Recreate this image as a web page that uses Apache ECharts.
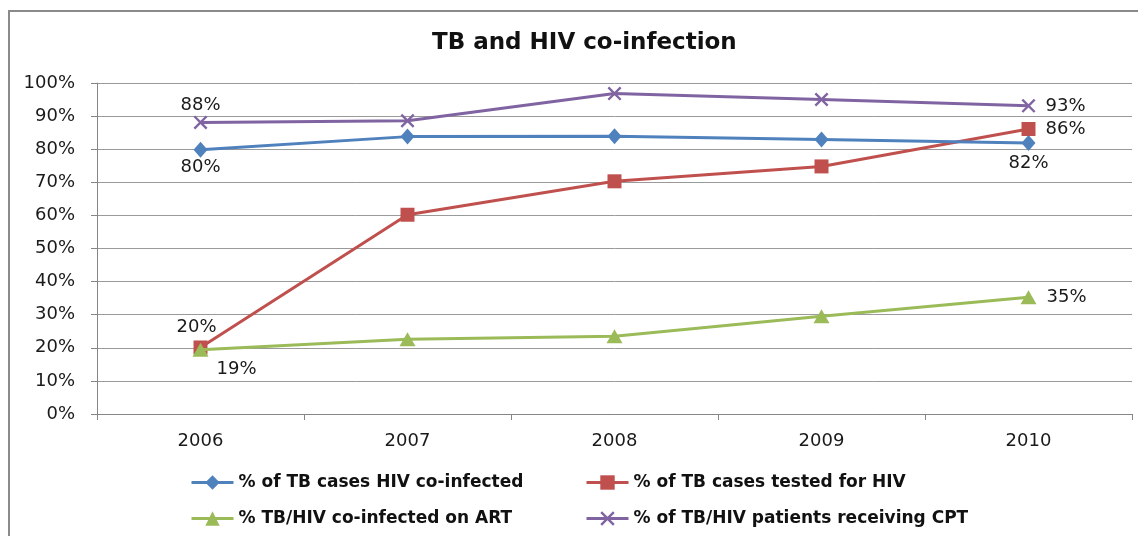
<!DOCTYPE html>
<html>
<head>
<meta charset="utf-8">
<script src="https://cdn.jsdelivr.net/npm/echarts@6/dist/echarts.min.js"></script>
<style>
  html, body { margin: 0; padding: 0; background: #fff; }
  #chart { width: 1138px; height: 536px; }
</style>
</head>
<body>
<div id="chart"></div>
<script>
// data
var years = ['2006', '2007', '2008', '2009', '2010']
var coInfected = [79.8, 83.8, 83.9, 82.9, 81.9]
var testedHiv = [20.1, 60.2, 70.3, 74.8, 86.1]
var onArt = [19.4, 22.6, 23.5, 29.5, 35.3]
var receivingCpt = [88.1, 88.6, 96.8, 95.0, 93.1]
var seriesNames = [
  '% of TB cases HIV co-infected',
  '% of TB cases tested for HIV',
  '% TB/HIV co-infected on ART',
  '% of TB/HIV patients receiving CPT'
]

var labelFont = { fontFamily: 'DejaVu Sans', fontSize: 18, color: '#1a1a1a' }

// only first and last points carry a label
function withLabels(values, firstPos, lastPos) {
  return values.map(function(v, i) {
    var item = { value: v }
    if (i === 0 && firstPos) item.label = Object.assign({ show: true }, labelFont, firstPos)
    if (i === values.length - 1 && lastPos) item.label = Object.assign({ show: true }, labelFont, lastPos)
    return item
  })
}

function pct(p) { return Math.round(p.value) + '%' }

var crossPath = 'path://M0,1.2L1.2,0L10,8.8L8.8,10Z M8.8,0L10,1.2L1.2,10L0,8.8Z'

var chart = echarts.init(document.getElementById('chart'))

var legendText = { fontFamily: 'DejaVu Sans', fontWeight: 'bold', fontSize: 17, color: '#111' }
function legendAt(name, left, top) {
  return {
    data: [name], left: left, top: top, itemWidth: 42, itemHeight: 18,
    itemGap: 4, textStyle: legendText, padding: 0,
    lineStyle: { width: 3 }
  }
}

var option = {
  animation: false,
  title: {
    text: 'TB and HIV co-infection',
    left: 427,
    top: 27,
    textStyle: { fontFamily: 'DejaVu Sans', fontWeight: 'bold', fontSize: 23, color: '#111' }
  },
  graphic: [{
    type: 'rect',
    shape: { x: 9, y: 11, width: 1300, height: 700 },
    style: { fill: 'none', stroke: '#8a8a8a', lineWidth: 2 },
    silent: true
  }],
  legend: [
    legendAt(seriesNames[0], 190, 474),
    legendAt(seriesNames[1], 585, 474),
    legendAt(seriesNames[2], 190, 510),
    legendAt(seriesNames[3], 585, 510)
  ],
  grid: { left: 97, right: 6, top: 83, bottom: 122, containLabel: false },
  xAxis: {
    type: 'category',
    data: years,
    boundaryGap: true,
    axisLine: { lineStyle: { color: '#868686', width: 1 } },
    axisTick: { show: true, length: 6, lineStyle: { color: '#868686' } },
    axisLabel: { fontFamily: 'DejaVu Sans', fontSize: 18, color: '#1a1a1a', margin: 18 }
  },
  yAxis: {
    type: 'value',
    min: 0,
    max: 100,
    interval: 10,
    axisLine: { show: true, lineStyle: { color: '#868686', width: 1 } },
    axisTick: { show: true, length: 6, lineStyle: { color: '#868686' } },
    splitLine: { lineStyle: { color: '#9a9a9a', width: 1 } },
    axisLabel: { formatter: '{value}%', fontFamily: 'DejaVu Sans', fontSize: 18, color: '#1a1a1a', margin: 22 }
  },
  series: [
    {
      name: seriesNames[0],
      type: 'line',
      data: withLabels(coInfected, { position: 'bottom', distance: 0, formatter: pct }, { position: 'bottom', distance: 3, formatter: pct }),
      symbol: 'diamond',
      symbolSize: [14, 16],
      lineStyle: { width: 3, color: '#4F81BD' },
      itemStyle: { color: '#4F81BD' },
      z: 3
    },
    {
      name: seriesNames[1],
      type: 'line',
      data: withLabels(testedHiv, { position: 'top', distance: 4, offset: [-4, 0], formatter: pct }, { position: 'right', distance: 10, formatter: pct }),
      symbol: 'rect',
      symbolSize: 14,
      lineStyle: { width: 3, color: '#C0504D' },
      itemStyle: { color: '#C0504D' },
      z: 2
    },
    {
      name: seriesNames[2],
      type: 'line',
      data: withLabels(onArt, { position: 'right', distance: 8, offset: [0, 20], formatter: pct }, { position: 'right', distance: 10, formatter: pct }),
      symbol: 'triangle',
      symbolSize: [16, 14],
      lineStyle: { width: 3, color: '#9BBB59' },
      itemStyle: { color: '#9BBB59' },
      z: 4
    },
    {
      name: seriesNames[3],
      type: 'line',
      data: withLabels(receivingCpt, { position: 'top', distance: 1, formatter: pct }, { position: 'right', distance: 10, formatter: pct }),
      symbol: crossPath,
      symbolSize: 14,
      lineStyle: { width: 3, color: '#8064A2' },
      itemStyle: { color: '#8064A2' },
      z: 1
    }
  ]
}

chart.setOption(option)
</script>
</body>
</html>
